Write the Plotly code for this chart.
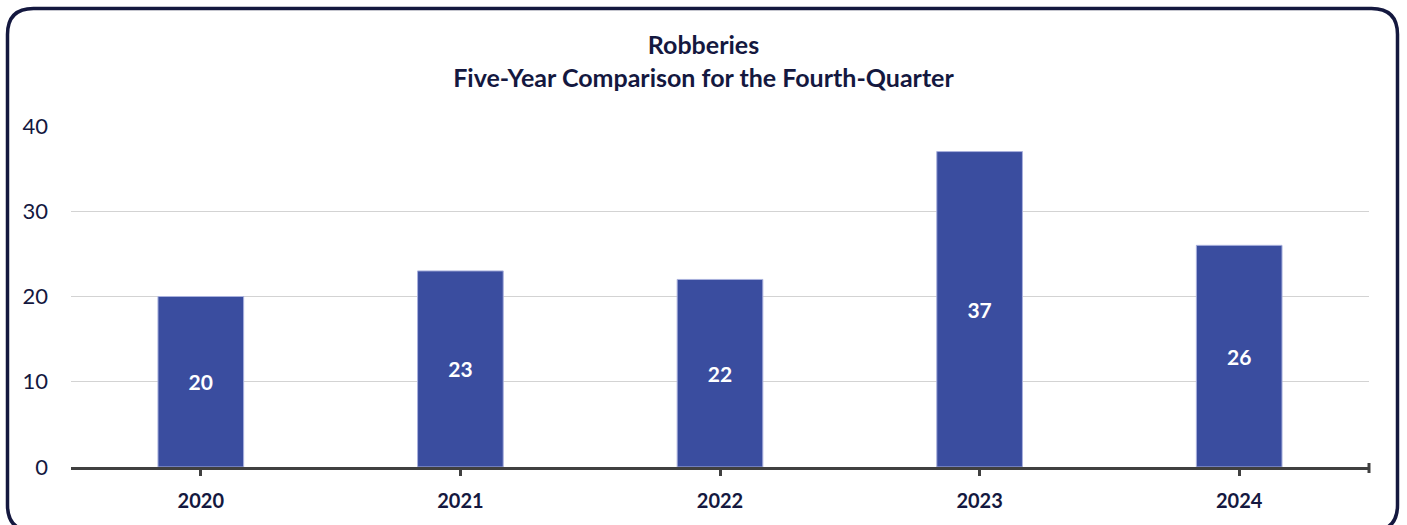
import plotly.graph_objects as go

# Fourth-quarter robbery counts by year
years = ["2020", "2021", "2022", "2023", "2024"]
robberies = [20, 23, 22, 37, 26]
y_ticks = [0, 10, 20, 30, 40]

W, H = 1407, 525
FONT = "Lato"
NAVY = "#14183F"
BAR = "#3A4D9F"

# plot area in pixels (margins are zero, so paper == page)
PL, PR, PT, PB = 71, 1369, 126, 467

fig = go.Figure(
    go.Bar(
        x=years,
        y=robberies,
        width=0.33,
        marker=dict(color=BAR, line=dict(color="#A9B1DD", width=1)),
        text=robberies,
        textposition="inside",
        insidetextanchor="middle",
        textfont=dict(family=FONT, size=21, color="white", weight="bold"),
        cliponaxis=False,
        hoverinfo="skip",
    )
)


def px_x(v):
    return v / W


def px_y(v):
    return 1 - v / H


# rounded frame around the whole chart
fx0, fx1, fy0, fy1, r = 7.5, 1397.5, 8.5, 531, 26
path = (
    f"M {px_x(fx0 + r)},{px_y(fy0)} L {px_x(fx1 - r)},{px_y(fy0)} "
    f"Q {px_x(fx1)},{px_y(fy0)} {px_x(fx1)},{px_y(fy0 + r)} "
    f"L {px_x(fx1)},{px_y(fy1 - r)} "
    f"Q {px_x(fx1)},{px_y(fy1)} {px_x(fx1 - r)},{px_y(fy1)} "
    f"L {px_x(fx0 + r)},{px_y(fy1)} "
    f"Q {px_x(fx0)},{px_y(fy1)} {px_x(fx0)},{px_y(fy1 - r)} "
    f"L {px_x(fx0)},{px_y(fy0 + r)} "
    f"Q {px_x(fx0)},{px_y(fy0)} {px_x(fx0 + r)},{px_y(fy0)} Z"
)

shapes = [
    dict(type="path", xref="paper", yref="paper", path=path,
         line=dict(color=NAVY, width=3.5), fillcolor="rgba(0,0,0,0)", layer="above"),
    # closing tick at the right end of the category axis
    dict(type="line", xref="x domain", yref="paper",
         x0=1, x1=1, y0=px_y(PB - 4), y1=px_y(PB + 6),
         line=dict(color="#404040", width=3)),
]

fig.update_layout(
    width=W,
    height=H,
    margin=dict(l=0, r=0, t=0, b=0),
    paper_bgcolor="white",
    plot_bgcolor="white",
    showlegend=False,
    bargap=0.67,
    font=dict(family=FONT, color=NAVY),
    title=dict(
        text="Robberies<br>Five-Year Comparison for the Fourth-Quarter",
        x=0.5,
        xanchor="center",
        y=px_y(54),
        yanchor="top",
        font=dict(family=FONT, size=25, color=NAVY, weight="bold"),
    ),
    shapes=shapes,
    xaxis=dict(
        domain=[px_x(PL), px_x(PR)],
        type="category",
        showline=True,
        linecolor="#404040",
        linewidth=3,
        ticks="outside",
        ticklen=6,
        tickwidth=2.5,
        tickcolor="#404040",
        showgrid=False,
        ticklabelstandoff=8,
        tickfont=dict(family=FONT, size=20, color=NAVY, weight="bold"),
        automargin=False,
        fixedrange=True,
    ),
    yaxis=dict(
        domain=[px_y(PB), px_y(PT)],
        range=[0, 40],
        tickvals=y_ticks,
        showline=False,
        showgrid=True,
        gridcolor="#D3D3D3",
        gridwidth=1,
        zeroline=False,
        ticks="",
        ticklabelstandoff=22,
        tickfont=dict(family=FONT, size=22, color=NAVY),
        automargin=False,
        fixedrange=True,
    ),
)

fig.write_html("out.html")
